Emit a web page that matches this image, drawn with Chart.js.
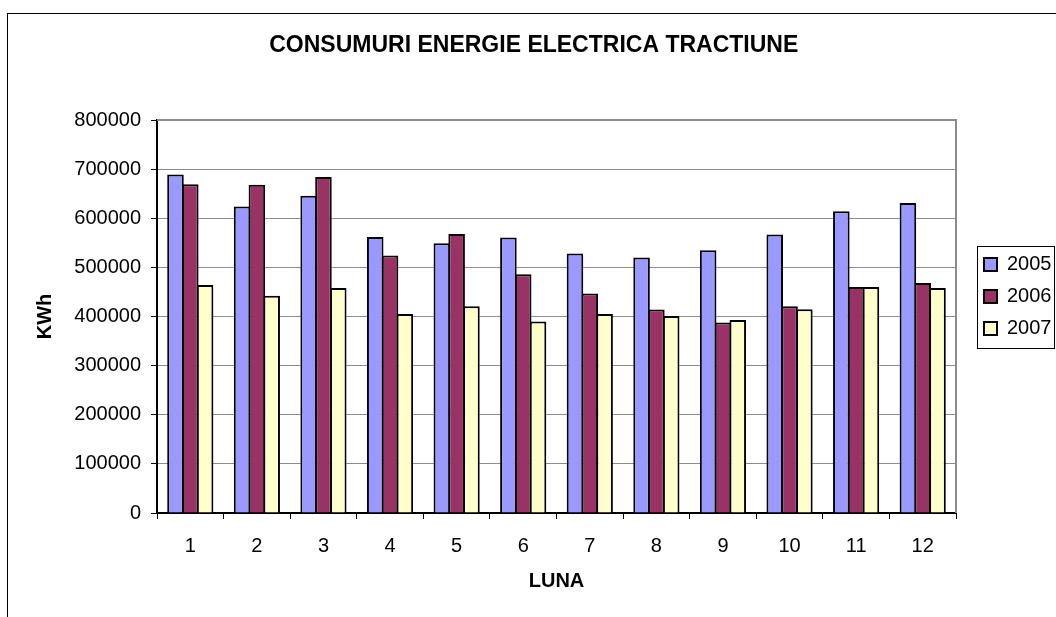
<!DOCTYPE html>
<html>
<head>
<meta charset="utf-8">
<title>Consumuri energie electrica tractiune</title>
<script src="https://cdn.jsdelivr.net/npm/chart.js@4.4.1/dist/chart.umd.min.js"></script>
<style>
  html, body { margin: 0; padding: 0; background: #fff; }
  #wrap { width: 1056px; height: 617px; position: relative; }
</style>
</head>
<body>
<div id="wrap"><canvas id="chart"></canvas></div>
<script>
// date
const months = ["1", "2", "3", "4", "5", "6", "7", "8", "9", "10", "11", "12"];
const kwh2005 = [689000, 624000, 646000, 562000, 549000, 561000, 528000, 520000, 535000, 567000, 614000, 631000];
const kwh2006 = [669000, 668000, 684000, 524000, 568000, 486000, 447000, 414000, 388000, 421000, 460000, 468000];
const kwh2007 = [464000, 442000, 458000, 405000, 421000, 390000, 405000, 401000, 393000, 415000, 460000, 458000];
const yTicks = [0, 100000, 200000, 300000, 400000, 500000, 600000, 700000, 800000];

const FONT = "Arial, 'Liberation Sans', sans-serif";

// rama exterioara, chenarul zonei de desen si chenarul legendei
const framePlugin = {
  id: "frames",
  beforeDraw(chart) {
    const ctx = chart.ctx;
    ctx.save();
    ctx.fillStyle = "#fff";
    ctx.fillRect(0, 0, chart.width, chart.height);
    ctx.strokeStyle = "#000";
    ctx.lineWidth = 1;
    ctx.strokeRect(7.5, 13.5, 1200, 800);
    ctx.restore();
  },
  beforeDatasetsDraw(chart) {
    const a = chart.chartArea;
    const ctx = chart.ctx;
    ctx.save();
    ctx.strokeStyle = "#8c8c8c";
    ctx.lineWidth = 2;
    ctx.beginPath();
    ctx.moveTo(a.left, a.top);
    ctx.lineTo(a.right, a.top);
    ctx.lineTo(a.right, a.bottom);
    ctx.stroke();
    ctx.restore();
  },
  afterDraw(chart) {
    const boxes = chart.legend.legendHitBoxes;
    if (!boxes || !boxes.length) return;
    let l = Infinity, t = Infinity, b = -Infinity;
    boxes.forEach(h => {
      l = Math.min(l, h.left);
      t = Math.min(t, h.top);
      b = Math.max(b, h.top + h.height);
    });
    const x0 = Math.round(l - 7), y0 = Math.round(t - 9), y1 = Math.round(b + 9);
    const ctx = chart.ctx;
    ctx.save();
    ctx.strokeStyle = "#000";
    ctx.lineWidth = 1;
    ctx.strokeRect(x0 + 0.5, y0 + 0.5, 1054 - x0, y1 - y0);
    ctx.restore();
  }
};

const ctx = document.getElementById("chart").getContext("2d");

new Chart(ctx, {
  type: "bar",
  data: {
    labels: months,
    datasets: [
      { label: "2005", data: kwh2005, backgroundColor: "#9999ff" },
      { label: "2006", data: kwh2006, backgroundColor: "#993366" },
      { label: "2007", data: kwh2007, backgroundColor: "#ffffcc" }
    ]
  },
  options: {
    responsive: true,
    maintainAspectRatio: false,
    animation: false,
    layout: { padding: { left: 11.5, right: 0, top: 0, bottom: 24 } },
    datasets: {
      bar: {
        borderColor: "#000",
        borderWidth: 2,
        borderSkipped: "bottom",
        categoryPercentage: 0.667,
        barPercentage: 1.12
      }
    },
    plugins: {
      title: {
        display: true,
        text: "CONSUMURI ENERGIE ELECTRICA TRACTIUNE",
        color: "#000",
        font: { family: FONT, size: 23, weight: "bold" },
        padding: { top: 32, bottom: 60.4 }
      },
      legend: {
        position: "right",
        maxWidth: 84,
        labels: {
          color: "#000",
          font: { family: FONT, size: 20 },
          boxWidth: 13,
          boxHeight: 13,
          padding: 12
        }
      },
      tooltip: { enabled: false }
    },
    scales: {
      x: {
        offset: true,
        grid: {
          offset: true,
          drawOnChartArea: false,
          drawTicks: true,
          tickLength: 6,
          tickColor: "#000",
          tickWidth: 1
        },
        border: { color: "#000", width: 2 },
        ticks: {
          color: "#000",
          font: { family: FONT, size: 20 },
          padding: 15,
          maxRotation: 0
        },
        title: {
          display: true,
          text: "LUNA",
          color: "#000",
          font: { family: FONT, size: 20, weight: "bold" },
          padding: { top: 0, bottom: 0 }
        },
        afterFit(scale) { scale.height = 80; }
      },
      y: {
        min: 0,
        max: 800000,
        afterBuildTicks(scale) { scale.ticks = yTicks.map(v => ({ value: v })); },
        grid: {
          color: "#8c8c8c",
          lineWidth: 1,
          tickLength: 6,
          tickColor: "#000"
        },
        border: { color: "#000", width: 2 },
        ticks: {
          color: "#000",
          font: { family: FONT, size: 20 },
          padding: 10,
          callback: v => String(v)
        },
        title: {
          display: true,
          text: "KWh",
          color: "#000",
          font: { family: FONT, size: 20, weight: "bold" },
          padding: { top: 22, bottom: 0 }
        },
        afterFit(scale) { scale.width = 145.5; }
      },
      gap: {
        type: "linear",
        position: "right",
        display: true,
        grid: { display: false, drawTicks: false },
        border: { display: false },
        ticks: { display: false },
        afterFit(scale) { scale.width = 16; }
      }
    }
  },
  plugins: [framePlugin]
});
</script>
</body>
</html>
